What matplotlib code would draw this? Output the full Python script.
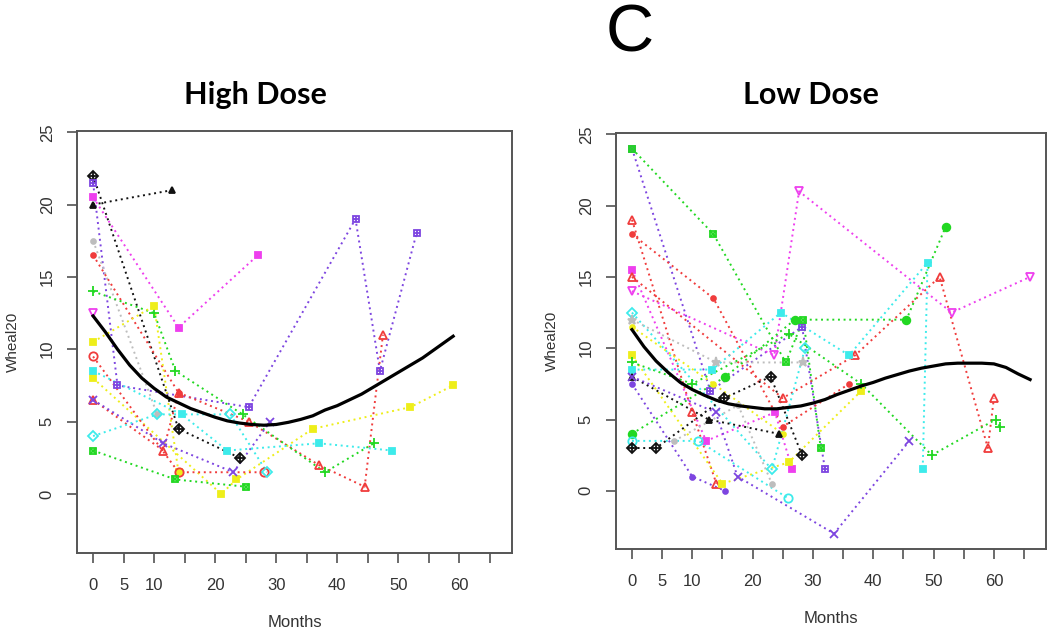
import matplotlib
matplotlib.use("Agg")
import matplotlib.pyplot as plt

plt.rcParams["font.family"] = ["Liberation Sans", "DejaVu Sans"]

# ---------------- High dose panel: one list per subject ----------------
HIGH_MONTHS = [
    [0, 14, 24],                    # black diamond-plus
    [0, 13],                        # black triangle
    [0, 4, 25.5, 43, 47, 53],       # purple square-plus
    [0, 14, 27],                    # magenta square
    [0, 10.5],                      # gray dot
    [0, 14],                        # red dot
    [0, 11.5, 14, 25.5, 37, 44.5, 47.5],  # red triangle
    [0, 10, 13.5, 24.5, 38, 46],    # green plus
    [0],                            # magenta down-triangle
    [0, 10, 14],                    # yellow square
    [0, 21, 23.5, 36, 52, 59],      # yellow square 2
    [0, 14, 28],                    # red circle
    [0, 14.5, 22, 37, 49],          # cyan square
    [0, 11.5, 23, 29],              # purple cross
    [0, 10.5, 22.5, 28.5],          # cyan diamond
    [0, 13.5, 25],                  # green hourglass
]
HIGH_WHEAL = [
    [22, 4.5, 2.5],
    [20, 21],
    [21.5, 7.5, 6, 19, 8.5, 18],
    [20.5, 11.5, 16.5],
    [17.5, 5.5],
    [16.5, 7],
    [6.5, 3, 7, 5, 2, 0.5, 11],
    [14, 12.5, 8.5, 5.5, 1.5, 3.5],
    [12.5],
    [10.5, 13, 1.5],
    [8, 0, 1, 4.5, 6, 7.5],
    [9.5, 1.5, 1.5],
    [8.5, 5.5, 3, 3.5, 3],
    [6.5, 3.5, 1.5, 5],
    [4, 5.5, 5.5, 1.5],
    [3, 1, 0.5],
]
HIGH_COLORS = ["black", "black", "purple", "magenta", "gray", "red", "red",
               "green", "magenta", "yellow", "yellow", "red", "cyan",
               "purple", "cyan", "green"]
HIGH_MARKERS = ["dplus", "trif", "sqplus", "sq", "dot", "dot", "tri",
                "plus", "tdown", "sq", "sq", "circ", "sq", "x", "diam", "sqx"]

# smooth trend
HIGH_FIT_X = [0, 2, 4, 6, 8, 10, 12, 14, 16, 18, 20, 22, 24, 26, 28, 30,
              32, 34, 36, 38, 40, 42, 44, 46, 48, 50, 52, 54, 56, 59]
HIGH_FIT_Y = [12.3, 11.2, 10.0, 8.9, 8.0, 7.3, 6.7, 6.3, 5.9, 5.6, 5.3, 5.05,
              4.9, 4.8, 4.75, 4.8, 4.95, 5.15, 5.4, 5.8, 6.1, 6.5, 6.9, 7.4,
              7.9, 8.4, 8.9, 9.4, 10.0, 10.9]

# ---------------- Low dose panel ----------------
LOW_MONTHS = [
    [0, 13, 28.2, 32],
    [0, 13.5, 25.5, 28.4, 31.3],
    [0, 10, 14],
    [0, 13.5, 25, 36],
    [0, 12.3, 23.7, 26.6],
    [0, 25, 37, 51, 59, 60],
    [0, 23.6, 27.7, 53, 66],
    [0, 23.2, 28.7],
    [0, 14, 28.4],
    [0, 13.5, 25],
    [0, 15, 26, 38],
    [0, 10, 26, 38, 49.7, 60.3, 61],
    [0, 13.3, 24.7, 36, 49, 48.2],
    [0, 12.7, 24.3],
    [0, 10, 15.4],
    [0, 13.9, 17.5, 33.5, 46],
    [0, 15.5, 27, 45.5, 52],
    [0, 11, 25.8],
    [0, 4, 15.3, 23, 28.2],
    [7, 17.6, 23.2],
]
LOW_WHEAL = [
    [24, 7, 11.5, 1.5],
    [24, 18, 9, 12, 3],
    [19, 5.5, 0.5],
    [18, 13.5, 4.5, 7.5],
    [15.5, 3.5, 5.5, 1.5],
    [15, 6.5, 9.5, 15, 3, 6.5],
    [14, 9.5, 21, 12.5, 15],
    [12.5, 1.5, 10],
    [12, 9, 9],
    [11.5, 7.5, 4],
    [9.5, 0.5, 2, 7],
    [9, 7.5, 11, 7.5, 2.5, 5, 4.5],
    [8.5, 8.5, 12.5, 9.5, 16, 1.5],
    [8, 5, 4],
    [7.5, 1, 0],
    [8, 5.5, 1, -3, 3.5],
    [4, 8, 12, 12, 18.5],
    [3.5, 3.5, -0.5],
    [3, 3, 6.5, 8, 2.5],
    [3.5, 6, 0.5],
]
LOW_COLORS = ["purple", "green", "red", "red", "magenta", "red", "magenta",
              "cyan", "gray", "yellow", "yellow", "green", "cyan", "black",
              "purple", "purple", "green", "cyan", "black", "gray"]
LOW_MARKERS = ["sqplus", "sqx", "tri", "dot", "sq", "tri", "tdown", "diam",
               "star", "dot", "sq", "plus", "sq", "trif", "dot", "x", "dotb",
               "circ", "dplus", "dot"]

LOW_FIT_X = [0, 2, 4, 6, 8, 10, 12, 14, 16, 18, 20, 22, 24, 26, 28, 30, 32,
             34, 36, 38, 40, 42, 44, 46, 48, 50, 52, 54, 56, 58, 60, 62, 64, 66]
LOW_FIT_Y = [11.3, 10.1, 9.1, 8.3, 7.6, 7.1, 6.7, 6.35, 6.1, 5.95, 5.85, 5.75,
             5.75, 5.85, 5.95, 6.15, 6.4, 6.75, 7.05, 7.35, 7.6, 7.9, 8.15,
             8.4, 8.6, 8.75, 8.9, 8.95, 8.95, 8.95, 8.9, 8.65, 8.2, 7.8]

# R-like colours
PALETTE = {"black": "#111111", "red": "#F03C3C", "green": "#22D822",
           "purple": "#7D45E0", "magenta": "#EE3FEE", "gray": "#BDBDBD",
           "yellow": "#EEEE1A", "cyan": "#3DEBEB"}

# marker code -> layers of (marker, size, filled)
MARKERS = {
    "dplus": [("D", 5.5, False), ("+", 6.5, False)],
    "sqplus": [("s", 5, False), ("+", 4.5, False)],
    "sqx": [("s", 5, False), ("x", 4, False)],
    "sq": [("s", 4.5, True)],
    "tri": [("^", 6, False)],
    "trif": [("^", 4, True)],
    "tdown": [("v", 6, False)],
    "plus": [("+", 7.5, False)],
    "x": [("x", 5.5, False)],
    "dot": [("o", 3.5, True)],
    "dotb": [("o", 5.5, True)],
    "circ": [("o", 6, False)],
    "diam": [("D", 5, False)],
    "star": [("*", 6.5, True)],
}


def draw_panel(ax, months, wheal, colors, markers, fit_x, fit_y):
    for m, w, c, mk in zip(months, wheal, colors, markers):
        col = PALETTE[c]
        ax.plot(m, w, color=col, ls=(0, (1, 1.9)), lw=1.4, zorder=2)
        for shape, size, filled in MARKERS[mk]:
            ax.plot(m, w, ls="none", marker=shape, ms=size, color=col,
                    mfc=col if filled else "none", mew=1.3, zorder=3)
    ax.plot(fit_x, fit_y, color="black", lw=2.3, zorder=4)

    ax.set_xlim(-2.64, 68.64)
    ax.set_ylim(-4.08, 25.08)
    ticks = list(range(0, 70, 5))
    ax.set_xticks(ticks)
    ax.set_xticklabels([str(t) if t in (0, 5, 10, 20, 30, 40, 50, 60) else ""
                        for t in ticks])
    ax.set_yticks([0, 5, 10, 15, 20, 25])
    ax.tick_params(axis="both", direction="out", length=7, width=1.1,
                   colors="#444444", labelcolor="#333333", labelsize=12)
    ax.tick_params(axis="x", pad=11)
    ax.tick_params(axis="y", pad=9)
    for lab in ax.get_yticklabels():
        lab.set_rotation(90)
        lab.set_va("center")
    for sp in ax.spines.values():
        sp.set_color("#555555")
        sp.set_linewidth(1.4)
    ax.set_xlabel("Months", fontsize=12, color="#333333", labelpad=16)
    ax.set_ylabel("Wheal20", fontsize=11, color="#333333", labelpad=14)


fig = plt.figure(figsize=(10.5, 6.33), dpi=100)
ax_hi = fig.add_axes([0.0733, 0.1264, 0.4143, 0.6666])
ax_lo = fig.add_axes([0.5867, 0.1327, 0.4095, 0.657])

draw_panel(ax_hi, HIGH_MONTHS, HIGH_WHEAL, HIGH_COLORS, HIGH_MARKERS,
           HIGH_FIT_X, HIGH_FIT_Y)
draw_panel(ax_lo, LOW_MONTHS, LOW_WHEAL, LOW_COLORS, LOW_MARKERS,
           LOW_FIT_X, LOW_FIT_Y)

fig.text(0.243, 1 - 95 / 633, "High Dose", ha="center", va="center",
         fontsize=22, fontweight="bold", family="Lato")
fig.text(0.772, 1 - 95 / 633, "Low Dose", ha="center", va="center",
         fontsize=22, fontweight="bold", family="Lato")
fig.text(0.6, 1 - 52 / 633, "C", ha="center", va="baseline", fontsize=48)

fig.savefig("out.png", dpi=100)
